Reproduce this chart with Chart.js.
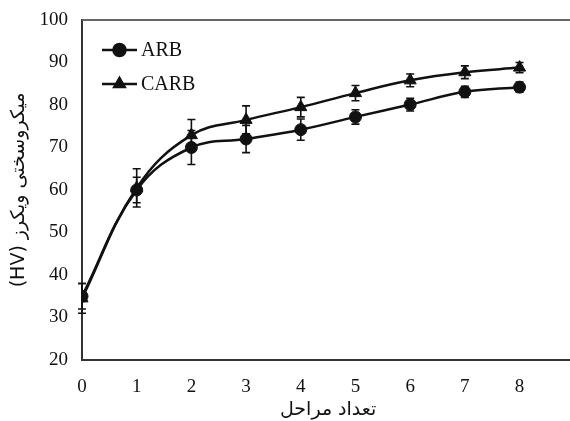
<!DOCTYPE html>
<html>
<head>
<meta charset="utf-8">
<script src="https://cdn.jsdelivr.net/npm/chart.js@4"></script>
<style>
  html, body { margin: 0; padding: 0; overflow: hidden; background: #fff; }
  #wrap { width: 589px; height: 421px; }
</style>
</head>
<body>
<div id="wrap"><canvas id="chart" width="589" height="421"></canvas></div>
<script>
// data
const stages = [0, 1, 2, 3, 4, 5, 6, 7, 8]
const arbValues = [35, 60, 70, 72, 74.2, 77.2, 80.1, 83.1, 84.2]
const carbValues = [34.5, 60.5, 72.9, 76.5, 79.5, 82.8, 85.8, 87.7, 88.8]
const arbErrors = [3, 3, 4, 3.2, 2.5, 1.7, 1.5, 1.3, 1.2]
const carbErrors = [3.5, 4.5, 3.7, 3.3, 2.3, 1.8, 1.5, 1.5, 1.2]
const xTicks = [0, 1, 2, 3, 4, 5, 6, 7, 8, 9]
const yTicks = [20, 30, 40, 50, 60, 70, 80, 90, 100]

const serif = "'Liberation Serif', 'Times New Roman', serif"
const persian = "'DejaVu Sans', sans-serif"

const toPoints = (vals) => stages.map((s, i) => ({ x: s, y: vals[i] }))

// vertical error bars with caps, drawn under the markers
const errorBars = {
  id: 'errorBars',
  beforeDatasetsDraw(chart) {
    const { ctx, scales: { x, y } } = chart
    const errs = [arbErrors, carbErrors]
    ctx.save()
    ctx.strokeStyle = '#111'
    ctx.lineWidth = 1.6
    chart.data.datasets.forEach((ds, d) => {
      ds.data.forEach((p, i) => {
        const px = x.getPixelForValue(p.x)
        const top = y.getPixelForValue(p.y + errs[d][i])
        const bot = y.getPixelForValue(p.y - errs[d][i])
        ctx.beginPath()
        ctx.moveTo(px, top); ctx.lineTo(px, bot)
        ctx.moveTo(px - 4, top); ctx.lineTo(px + 4, top)
        ctx.moveTo(px - 4, bot); ctx.lineTo(px + 4, bot)
        ctx.stroke()
      })
    })
    ctx.restore()
  }
}

// top frame line + legend inside the plot
const frameAndLegend = {
  id: 'frameAndLegend',
  afterDraw(chart) {
    const { ctx, chartArea: a } = chart
    ctx.save()
    ctx.strokeStyle = '#666'
    ctx.lineWidth = 2
    ctx.beginPath()
    ctx.moveTo(a.left, a.top); ctx.lineTo(a.right + 10, a.top)
    ctx.stroke()

    const items = [
      { label: 'ARB', style: 'circle', dy: 30 },
      { label: 'CARB', style: 'triangle', dy: 64 }
    ]
    items.forEach(it => {
      const yy = a.top + it.dy
      const x0 = a.left + 20, x1 = a.left + 55
      ctx.strokeStyle = '#111'
      ctx.lineWidth = 2.5
      ctx.beginPath(); ctx.moveTo(x0, yy); ctx.lineTo(x1, yy); ctx.stroke()
      ctx.fillStyle = '#111'
      Chart.helpers.drawPoint(ctx, { pointStyle: it.style, radius: 6, borderWidth: 1 }, (x0 + x1) / 2, yy)
      ctx.fillStyle = '#111'
      ctx.font = '20px ' + serif
      ctx.textBaseline = 'middle'
      ctx.textAlign = 'left'
      ctx.fillText(it.label, x1 + 4, yy + 1)
    })
    ctx.restore()
  }
}

new Chart(document.getElementById('chart'), {
  type: 'line',
  data: {
    datasets: [
      {
        label: 'ARB',
        data: toPoints(arbValues),
        borderColor: '#111',
        backgroundColor: '#111',
        borderWidth: 2.5,
        tension: 0.4,
        pointStyle: 'circle',
        pointRadius: 6,
        pointBorderWidth: 1
      },
      {
        label: 'CARB',
        data: toPoints(carbValues),
        borderColor: '#111',
        backgroundColor: '#111',
        borderWidth: 2.5,
        tension: 0.4,
        pointStyle: 'triangle',
        pointRadius: 7,
        pointBorderWidth: 1
      }
    ]
  },
  options: {
    responsive: false,
    animation: false,
    layout: { padding: { top: 20, right: 6, left: 0, bottom: 0 } },
    plugins: {
      legend: { display: false },
      tooltip: { enabled: false }
    },
    scales: {
      x: {
        type: 'linear',
        min: 0,
        max: 9,
        afterBuildTicks: (s) => { s.ticks = xTicks.map(v => ({ value: v })) },
        grid: { display: false, drawTicks: true, tickLength: 6, tickColor: '#333' },
        border: { display: true, color: '#333', width: 2 },
        ticks: { color: '#111', font: { family: serif, size: 19 }, padding: 10, maxRotation: 0 },
        title: { display: true, text: 'تعداد مراحل', color: '#111', font: { family: persian, size: 19 }, padding: { top: 0, bottom: 0 } },
        afterFit: (s) => { s.height = 61 }
      },
      y: {
        min: 20,
        max: 100,
        afterBuildTicks: (s) => { s.ticks = yTicks.map(v => ({ value: v })) },
        grid: { display: false, drawTicks: true, tickLength: 6, tickColor: '#333' },
        border: { display: true, color: '#333', width: 2 },
        ticks: { color: '#111', font: { family: serif, size: 19 }, padding: 8 },
        title: { display: true, text: '(HV) میکروسختی ویکرز', color: '#111', font: { family: persian, size: 19 }, padding: { top: 8, bottom: 4 } },
        afterFit: (s) => { s.width = 82 }
      }
    }
  },
  plugins: [errorBars, frameAndLegend]
})
</script>
</body>
</html>
